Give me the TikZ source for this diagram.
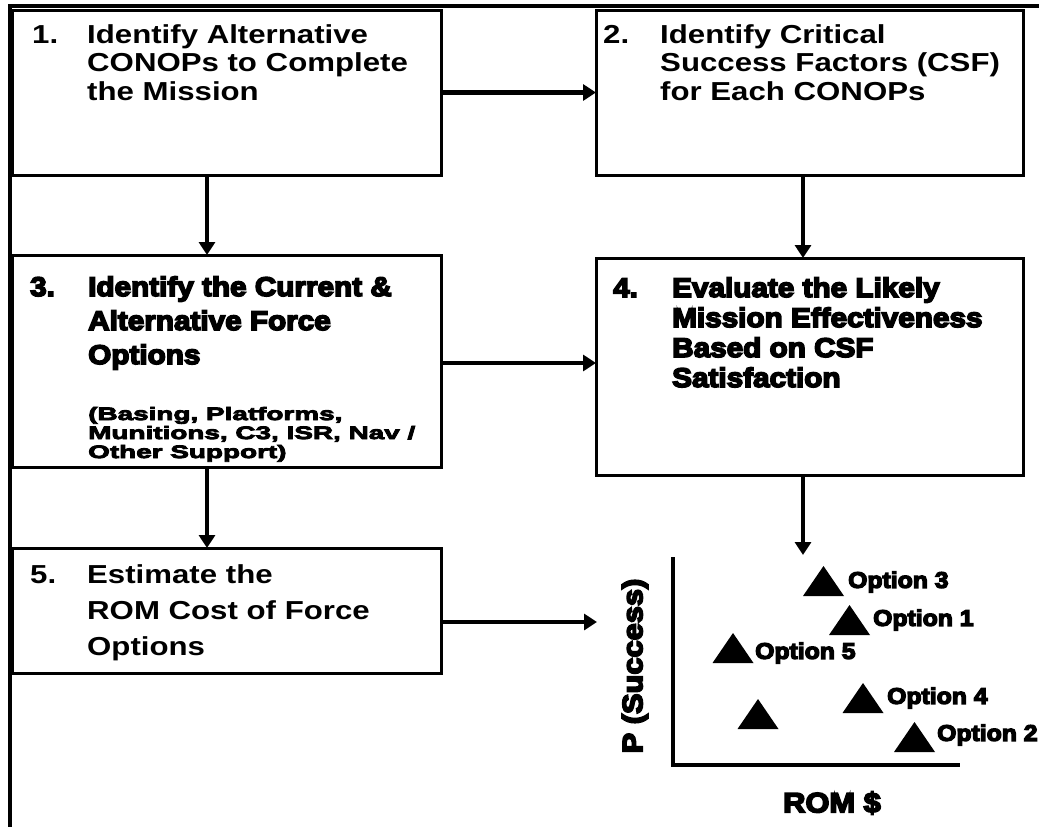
\documentclass[tikz,border=0pt]{standalone}
\usepackage{fontspec}
\setmainfont{Liberation Sans}
\newfontfamily\stepfont{Liberation Sans Bold}[FakeStretch=1.2]
\newfontfamily\heavyfont{Liberation Sans Bold}[FakeStretch=1.1, FakeBold=6]
\newfontfamily\subfont{Liberation Sans Bold}[FakeStretch=1.55, FakeBold=5]
\usepackage{tikz}
\usetikzlibrary{arrows.meta, positioning}
\tikzset{
    stepbox/.style={rectangle, draw, line width=3pt, anchor=north west, inner sep=0pt, outer sep=0pt},
    steptext/.style={anchor=base west, inner sep=0pt},
    plain/.style={font=\stepfont\fontsize{26}{28.5}\selectfont},
    heavy/.style={font=\heavyfont\fontsize{27}{34}\selectfont},
    arrow/.style={line width=4.5pt, -{Triangle[length=13pt, width=16pt]}},
    optlabel/.style={anchor=west, inner sep=0pt, font=\heavyfont\fontsize{22.5}{24}\selectfont},
    axislabel/.style={inner sep=0pt, font=\heavyfont\fontsize{28}{30}\selectfont}
}

\begin{document}
\begin{tikzpicture}[x=1pt, y=-1pt]
    \useasboundingbox (0,0) rectangle (1039,827);

    % Frame (top and left edge)
    \draw[line width=4pt] (10,827) -- (10,6) -- (1039,6);

    % Step boxes
    \node[stepbox, minimum width=429pt, minimum height=165pt] (b1) at (12,10) {};
    \node[stepbox, minimum width=427pt, minimum height=165pt] (b2) at (596,10) {};
    \node[stepbox, minimum width=429pt, minimum height=212pt] (b3) at (12,255) {};
    \node[stepbox, minimum width=427pt, minimum height=217pt] (b4) at (596,258) {};
    \node[stepbox, minimum width=429pt, minimum height=125pt] (b5) at (12,548) {};

    % Step texts
    \node[steptext, plain] (t1) at ([shift={(20,33)}]b1.north west)
        {\begin{tabular}[t]{@{}p{55pt}@{}l@{}}1. & Identify Alternative\\ & CONOPs to Complete\\ & the Mission\end{tabular}};
    \node[steptext, plain] (t2) at ([shift={(7,33)}]b2.north west)
        {\begin{tabular}[t]{@{}p{57pt}@{}l@{}}2. & Identify Critical\\ & Success Factors (CSF)\\ & for Each CONOPs\end{tabular}};
    \node[steptext, heavy] (t3) at ([shift={(18,41)}]b3.north west)
        {\begin{tabular}[t]{@{}p{58pt}@{}l@{}}3. & Identify the Current \&\\ & Alternative Force\\ & Options\\[22pt]
         & \subfont\fontsize{18}{19}\selectfont\begin{tabular}[t]{@{}l@{}}(Basing, Platforms,\\Munitions, C3, ISR, Nav /\\Other Support)\end{tabular}\end{tabular}};
    \node[steptext, heavy, font=\heavyfont\fontsize{27}{30}\selectfont] (t4) at ([shift={(17,39)}]b4.north west)
        {\begin{tabular}[t]{@{}p{59pt}@{}l@{}}4. & Evaluate the Likely\\ & Mission Effectiveness\\ & Based on CSF\\ & Satisfaction\end{tabular}};
    \node[steptext, font=\stepfont\fontsize{26}{36}\selectfont] (t5) at ([shift={(18,35)}]b5.north west)
        {\begin{tabular}[t]{@{}p{57pt}@{}l@{}}5. & Estimate the\\ & ROM Cost of Force\\ & Options\end{tabular}};

    % Flow
    \draw[arrow] (b1) -- (b2);
    \draw[arrow] ([xshift=-19.5pt]b1.south) -- ([xshift=-19.5pt]b3.north);
    \draw[arrow] ([xshift=-6.5pt]b2.south) -- ([xshift=-6.5pt]b4.north);
    \draw[arrow] ([yshift=-2pt]b3.east) -- ([yshift=-2pt]b3.east -| b4.west);
    \draw[arrow] ([xshift=-19.5pt]b3.south) -- ([xshift=-19.5pt]b5.north);
    \coordinate (cost) at (597,622);
    \coordinate (eff) at (803,555);
    \draw[arrow] (b5.east |- cost) -- (cost);
    \draw[arrow] (b4.south -| eff) -- (eff);

    % Trade space chart
    \coordinate (origin) at (673,765);
    \draw[line width=3.5pt] (673,557) -- (origin) -- (960,765);
    \node[axislabel, rotate=90] (ylab) at (635,666) {P (Success)};
    \node[axislabel] (xlab) at (832,803) {ROM \$};
    \foreach \x/\y in {823.5/596, 849.5/635, 733/663, 863/713, 758/729, 914.5/752}
        \fill (\x-20.5,\y) -- ++(41,0) -- ++(-20.5,-30) -- cycle;
    \node[optlabel] (opt3) at (848,582) {Option 3};
    \node[optlabel] (opt1) at (873,620) {Option 1};
    \node[optlabel] (opt5) at (755,653) {Option 5};
    \node[optlabel] (opt4) at (887,698) {Option 4};
    \node[optlabel] (opt2) at (937,735) {Option 2};
\end{tikzpicture}
\end{document}
